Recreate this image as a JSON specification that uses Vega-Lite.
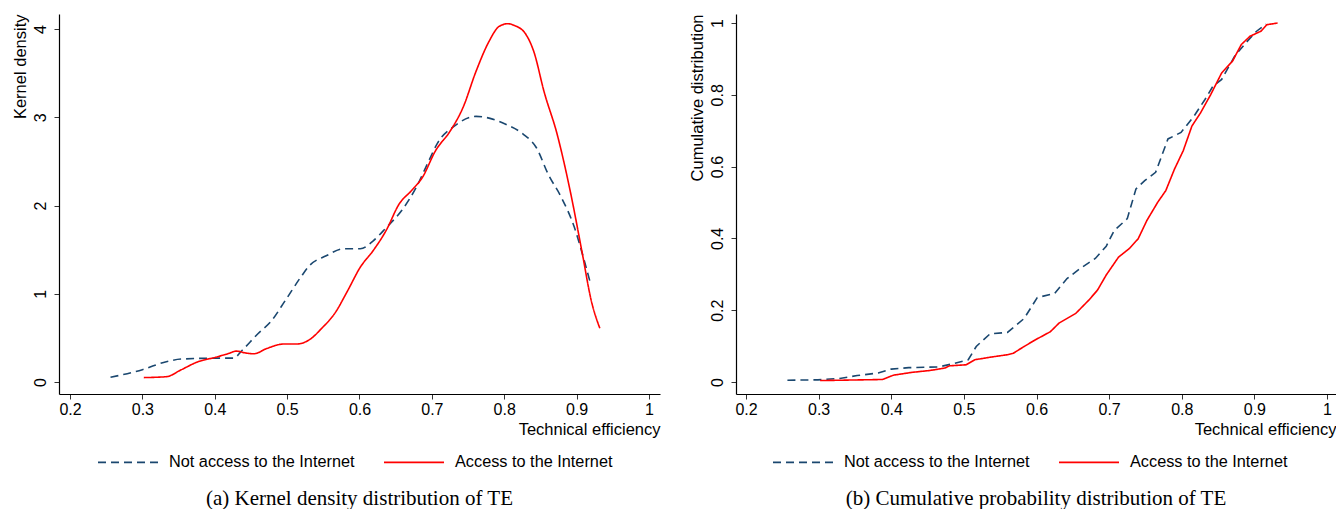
{
  "$schema": "https://vega.github.io/schema/vega-lite/v6.json",
  "background": "white",
  "padding": {"left": 11, "top": 13, "right": 0, "bottom": 0},
  "spacing": 28,
  "config": {
    "view": {"stroke": null},
    "font": "Liberation Sans",
    "axis": {
      "domainColor": "#000000",
      "domainWidth": 1.2,
      "tickColor": "#333333",
      "tickSize": 5,
      "grid": false,
      "labelFont": "Liberation Sans",
      "labelFontSize": 16,
      "labelColor": "#000000",
      "titleFont": "Liberation Sans",
      "titleFontSize": 16.5,
      "titleFontWeight": "normal",
      "titleColor": "#000000"
    },
    "axisX": {"labelPadding": 2, "titleAnchor": "end", "titlePadding": 4},
    "axisY": {"labelAngle": -90, "labelPadding": 6, "titleAnchor": "end", "titlePadding": 4},
    "legend": {
      "orient": "none",
      "direction": "horizontal",
      "title": null,
      "labelFont": "Liberation Sans",
      "labelFontSize": 16.3,
      "labelColor": "#000000",
      "labelLimit": 0,
      "symbolType": "stroke",
      "symbolSize": 3600,
      "symbolStrokeWidth": 1.6,
      "columnPadding": 25,
      "labelOffset": 10
    },
    "title": {
      "orient": "bottom",
      "font": "Liberation Serif",
      "fontSize": 21,
      "fontWeight": "normal",
      "color": "#000000",
      "offset": 17
    }
  },
  "datasets": {
    "density": [
      {"te": 0.256, "value": 0.053, "group": "Not access to the Internet"},
      {"te": 0.300, "value": 0.14, "group": "Not access to the Internet"},
      {"te": 0.333, "value": 0.23, "group": "Not access to the Internet"},
      {"te": 0.354, "value": 0.26, "group": "Not access to the Internet"},
      {"te": 0.401, "value": 0.27, "group": "Not access to the Internet"},
      {"te": 0.426, "value": 0.27, "group": "Not access to the Internet"},
      {"te": 0.438, "value": 0.36, "group": "Not access to the Internet"},
      {"te": 0.460, "value": 0.55, "group": "Not access to the Internet"},
      {"te": 0.477, "value": 0.68, "group": "Not access to the Internet"},
      {"te": 0.498, "value": 0.93, "group": "Not access to the Internet"},
      {"te": 0.519, "value": 1.19, "group": "Not access to the Internet"},
      {"te": 0.531, "value": 1.32, "group": "Not access to the Internet"},
      {"te": 0.554, "value": 1.43, "group": "Not access to the Internet"},
      {"te": 0.578, "value": 1.51, "group": "Not access to the Internet"},
      {"te": 0.601, "value": 1.51, "group": "Not access to the Internet"},
      {"te": 0.619, "value": 1.60, "group": "Not access to the Internet"},
      {"te": 0.637, "value": 1.75, "group": "Not access to the Internet"},
      {"te": 0.658, "value": 1.94, "group": "Not access to the Internet"},
      {"te": 0.678, "value": 2.20, "group": "Not access to the Internet"},
      {"te": 0.696, "value": 2.51, "group": "Not access to the Internet"},
      {"te": 0.708, "value": 2.71, "group": "Not access to the Internet"},
      {"te": 0.731, "value": 2.90, "group": "Not access to the Internet"},
      {"te": 0.761, "value": 3.01, "group": "Not access to the Internet"},
      {"te": 0.779, "value": 2.99, "group": "Not access to the Internet"},
      {"te": 0.802, "value": 2.92, "group": "Not access to the Internet"},
      {"te": 0.826, "value": 2.81, "group": "Not access to the Internet"},
      {"te": 0.844, "value": 2.66, "group": "Not access to the Internet"},
      {"te": 0.861, "value": 2.35, "group": "Not access to the Internet"},
      {"te": 0.879, "value": 2.09, "group": "Not access to the Internet"},
      {"te": 0.897, "value": 1.75, "group": "Not access to the Internet"},
      {"te": 0.908, "value": 1.45, "group": "Not access to the Internet"},
      {"te": 0.919, "value": 1.12, "group": "Not access to the Internet"},
      {"te": 0.302, "value": 0.05, "group": "Access to the Internet"},
      {"te": 0.333, "value": 0.06, "group": "Access to the Internet"},
      {"te": 0.354, "value": 0.14, "group": "Access to the Internet"},
      {"te": 0.377, "value": 0.23, "group": "Access to the Internet"},
      {"te": 0.401, "value": 0.28, "group": "Access to the Internet"},
      {"te": 0.418, "value": 0.32, "group": "Access to the Internet"},
      {"te": 0.430, "value": 0.35, "group": "Access to the Internet"},
      {"te": 0.442, "value": 0.33, "group": "Access to the Internet"},
      {"te": 0.454, "value": 0.32, "group": "Access to the Internet"},
      {"te": 0.472, "value": 0.38, "group": "Access to the Internet"},
      {"te": 0.495, "value": 0.43, "group": "Access to the Internet"},
      {"te": 0.513, "value": 0.43, "group": "Access to the Internet"},
      {"te": 0.531, "value": 0.48, "group": "Access to the Internet"},
      {"te": 0.548, "value": 0.61, "group": "Access to the Internet"},
      {"te": 0.566, "value": 0.78, "group": "Access to the Internet"},
      {"te": 0.584, "value": 1.04, "group": "Access to the Internet"},
      {"te": 0.601, "value": 1.30, "group": "Access to the Internet"},
      {"te": 0.619, "value": 1.49, "group": "Access to the Internet"},
      {"te": 0.637, "value": 1.72, "group": "Access to the Internet"},
      {"te": 0.655, "value": 2.02, "group": "Access to the Internet"},
      {"te": 0.672, "value": 2.17, "group": "Access to the Internet"},
      {"te": 0.687, "value": 2.32, "group": "Access to the Internet"},
      {"te": 0.705, "value": 2.62, "group": "Access to the Internet"},
      {"te": 0.725, "value": 2.84, "group": "Access to the Internet"},
      {"te": 0.743, "value": 3.11, "group": "Access to the Internet"},
      {"te": 0.761, "value": 3.52, "group": "Access to the Internet"},
      {"te": 0.779, "value": 3.86, "group": "Access to the Internet"},
      {"te": 0.793, "value": 4.03, "group": "Access to the Internet"},
      {"te": 0.805, "value": 4.06, "group": "Access to the Internet"},
      {"te": 0.814, "value": 4.04, "group": "Access to the Internet"},
      {"te": 0.829, "value": 3.95, "group": "Access to the Internet"},
      {"te": 0.841, "value": 3.74, "group": "Access to the Internet"},
      {"te": 0.855, "value": 3.29, "group": "Access to the Internet"},
      {"te": 0.873, "value": 2.81, "group": "Access to the Internet"},
      {"te": 0.891, "value": 2.17, "group": "Access to the Internet"},
      {"te": 0.908, "value": 1.45, "group": "Access to the Internet"},
      {"te": 0.920, "value": 0.93, "group": "Access to the Internet"},
      {"te": 0.932, "value": 0.61, "group": "Access to the Internet"}
    ],
    "cdf": [
      {"te": 0.257, "value": 0.005, "group": "Not access to the Internet"},
      {"te": 0.299, "value": 0.006, "group": "Not access to the Internet"},
      {"te": 0.329, "value": 0.010, "group": "Not access to the Internet"},
      {"te": 0.353, "value": 0.018, "group": "Not access to the Internet"},
      {"te": 0.382, "value": 0.025, "group": "Not access to the Internet"},
      {"te": 0.400, "value": 0.036, "group": "Not access to the Internet"},
      {"te": 0.424, "value": 0.040, "group": "Not access to the Internet"},
      {"te": 0.465, "value": 0.042, "group": "Not access to the Internet"},
      {"te": 0.483, "value": 0.050, "group": "Not access to the Internet"},
      {"te": 0.506, "value": 0.062, "group": "Not access to the Internet"},
      {"te": 0.517, "value": 0.099, "group": "Not access to the Internet"},
      {"te": 0.536, "value": 0.134, "group": "Not access to the Internet"},
      {"te": 0.560, "value": 0.138, "group": "Not access to the Internet"},
      {"te": 0.583, "value": 0.177, "group": "Not access to the Internet"},
      {"te": 0.601, "value": 0.235, "group": "Not access to the Internet"},
      {"te": 0.625, "value": 0.247, "group": "Not access to the Internet"},
      {"te": 0.642, "value": 0.288, "group": "Not access to the Internet"},
      {"te": 0.660, "value": 0.316, "group": "Not access to the Internet"},
      {"te": 0.681, "value": 0.344, "group": "Not access to the Internet"},
      {"te": 0.696, "value": 0.378, "group": "Not access to the Internet"},
      {"te": 0.707, "value": 0.422, "group": "Not access to the Internet"},
      {"te": 0.725, "value": 0.455, "group": "Not access to the Internet"},
      {"te": 0.737, "value": 0.538, "group": "Not access to the Internet"},
      {"te": 0.749, "value": 0.561, "group": "Not access to the Internet"},
      {"te": 0.764, "value": 0.584, "group": "Not access to the Internet"},
      {"te": 0.781, "value": 0.677, "group": "Not access to the Internet"},
      {"te": 0.799, "value": 0.695, "group": "Not access to the Internet"},
      {"te": 0.817, "value": 0.741, "group": "Not access to the Internet"},
      {"te": 0.832, "value": 0.787, "group": "Not access to the Internet"},
      {"te": 0.843, "value": 0.824, "group": "Not access to the Internet"},
      {"te": 0.855, "value": 0.843, "group": "Not access to the Internet"},
      {"te": 0.873, "value": 0.908, "group": "Not access to the Internet"},
      {"te": 0.888, "value": 0.944, "group": "Not access to the Internet"},
      {"te": 0.903, "value": 0.977, "group": "Not access to the Internet"},
      {"te": 0.916, "value": 0.997, "group": "Not access to the Internet"},
      {"te": 0.302, "value": 0.004, "group": "Access to the Internet"},
      {"te": 0.388, "value": 0.007, "group": "Access to the Internet"},
      {"te": 0.403, "value": 0.019, "group": "Access to the Internet"},
      {"te": 0.429, "value": 0.027, "group": "Access to the Internet"},
      {"te": 0.453, "value": 0.032, "group": "Access to the Internet"},
      {"te": 0.474, "value": 0.039, "group": "Access to the Internet"},
      {"te": 0.480, "value": 0.045, "group": "Access to the Internet"},
      {"te": 0.503, "value": 0.048, "group": "Access to the Internet"},
      {"te": 0.515, "value": 0.062, "group": "Access to the Internet"},
      {"te": 0.536, "value": 0.069, "group": "Access to the Internet"},
      {"te": 0.560, "value": 0.076, "group": "Access to the Internet"},
      {"te": 0.568, "value": 0.080, "group": "Access to the Internet"},
      {"te": 0.583, "value": 0.099, "group": "Access to the Internet"},
      {"te": 0.598, "value": 0.117, "group": "Access to the Internet"},
      {"te": 0.619, "value": 0.140, "group": "Access to the Internet"},
      {"te": 0.631, "value": 0.164, "group": "Access to the Internet"},
      {"te": 0.654, "value": 0.191, "group": "Access to the Internet"},
      {"te": 0.672, "value": 0.228, "group": "Access to the Internet"},
      {"te": 0.684, "value": 0.256, "group": "Access to the Internet"},
      {"te": 0.696, "value": 0.298, "group": "Access to the Internet"},
      {"te": 0.713, "value": 0.348, "group": "Access to the Internet"},
      {"te": 0.728, "value": 0.372, "group": "Access to the Internet"},
      {"te": 0.740, "value": 0.399, "group": "Access to the Internet"},
      {"te": 0.752, "value": 0.450, "group": "Access to the Internet"},
      {"te": 0.767, "value": 0.501, "group": "Access to the Internet"},
      {"te": 0.778, "value": 0.533, "group": "Access to the Internet"},
      {"te": 0.790, "value": 0.593, "group": "Access to the Internet"},
      {"te": 0.802, "value": 0.644, "group": "Access to the Internet"},
      {"te": 0.814, "value": 0.713, "group": "Access to the Internet"},
      {"te": 0.826, "value": 0.750, "group": "Access to the Internet"},
      {"te": 0.840, "value": 0.801, "group": "Access to the Internet"},
      {"te": 0.855, "value": 0.861, "group": "Access to the Internet"},
      {"te": 0.870, "value": 0.894, "group": "Access to the Internet"},
      {"te": 0.882, "value": 0.940, "group": "Access to the Internet"},
      {"te": 0.894, "value": 0.963, "group": "Access to the Internet"},
      {"te": 0.909, "value": 0.977, "group": "Access to the Internet"},
      {"te": 0.917, "value": 0.995, "group": "Access to the Internet"},
      {"te": 0.932, "value": 1.000, "group": "Access to the Internet"}
    ]
  },
  "hconcat": [
    {
      "width": 601,
      "height": 380,
      "data": {"name": "density"},
      "title": "(a) Kernel density distribution of TE",
      "mark": {"type": "line", "strokeWidth": 1.6, "interpolate": "monotone"},
      "encoding": {
        "x": {"field": "te", "type": "quantitative", "title": "Technical efficiency",
          "scale": {"domain": [0.1848, 1.0152], "nice": false, "zero": false},
          "axis": {"values": [0.2, 0.3, 0.4, 0.5, 0.6, 0.7, 0.8, 0.9, 1], "format": "~g"}},
        "y": {"field": "value", "type": "quantitative", "title": "Kernel density",
          "scale": {"domain": [-0.136, 4.17], "nice": false, "zero": false},
          "axis": {"values": [0, 1, 2, 3, 4], "format": "~g"}},
        "color": {"field": "group", "type": "nominal",
          "scale": {"domain": ["Not access to the Internet", "Access to the Internet"], "range": ["#1a476f", "#ff0000"]},
          "legend": {"orient": "none", "legendX": 38, "legendY": 417}},
        "strokeDash": {"field": "group", "type": "nominal",
          "scale": {"domain": ["Not access to the Internet", "Access to the Internet"], "range": [[8, 5], [1, 0]]},
          "legend": {"orient": "none", "legendX": 38, "legendY": 417}}
      }
    },
    {
      "width": 600,
      "height": 380,
      "data": {"name": "cdf"},
      "title": "(b) Cumulative probability distribution of TE",
      "mark": {"type": "line", "strokeWidth": 1.6},
      "encoding": {
        "x": {"field": "te", "type": "quantitative", "title": "Technical efficiency",
          "scale": {"domain": [0.1862, 1.0124], "nice": false, "zero": false},
          "axis": {"values": [0.2, 0.3, 0.4, 0.5, 0.6, 0.7, 0.8, 0.9, 1], "format": "~g"}},
        "y": {"field": "value", "type": "quantitative", "title": "Cumulative distribution",
          "scale": {"domain": [-0.0334, 1.025], "nice": false, "zero": false},
          "axis": {"values": [0, 0.2, 0.4, 0.6, 0.8, 1], "format": "~g"}},
        "color": {"field": "group", "type": "nominal",
          "scale": {"domain": ["Not access to the Internet", "Access to the Internet"], "range": ["#1a476f", "#ff0000"]},
          "legend": {"orient": "none", "legendX": 36, "legendY": 417}},
        "strokeDash": {"field": "group", "type": "nominal",
          "scale": {"domain": ["Not access to the Internet", "Access to the Internet"], "range": [[8, 5], [1, 0]]},
          "legend": {"orient": "none", "legendX": 36, "legendY": 417}}
      }
    }
  ],
  "resolve": {"scale": {"color": "independent", "strokeDash": "independent"}, "legend": {"color": "independent", "strokeDash": "independent"}}
}
